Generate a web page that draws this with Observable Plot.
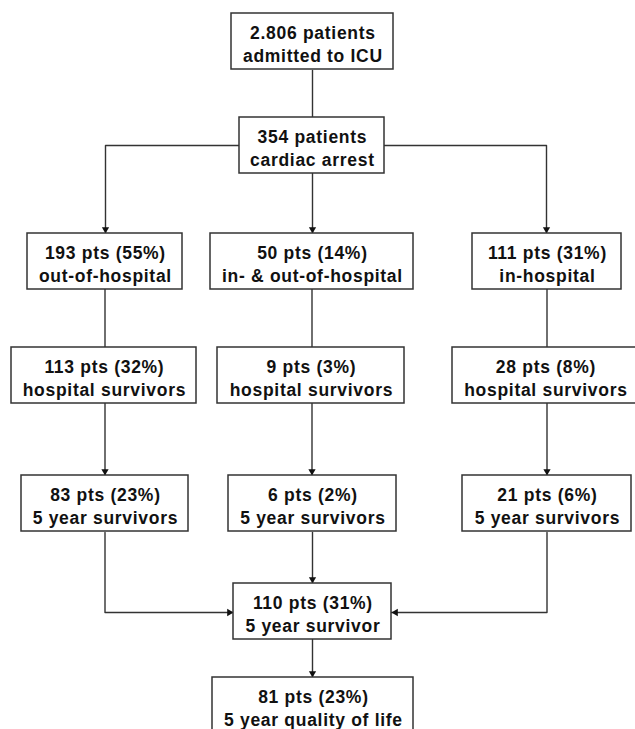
<!DOCTYPE html>
<html>
<head>
<meta charset="utf-8">
<script src="https://cdn.jsdelivr.net/npm/d3@7"></script>
<script src="https://cdn.jsdelivr.net/npm/@observablehq/plot@0.6"></script>
<style>
  html, body { margin: 0; padding: 0; background: #fff; overflow: hidden; }
  svg text { letter-spacing: 0.7px; }
</style>
</head>
<body>
<div id="chart"></div>
<script>
// ---- data: box labels (two lines each) ----
const counts = ["2.806 patients", "354 patients",
  "193 pts (55%)", "50 pts (14%)", "111 pts (31%)",
  "113 pts (32%)", "9 pts (3%)", "28 pts (8%)",
  "83 pts (23%)", "6 pts (2%)", "21 pts (6%)",
  "110 pts (31%)", "81 pts (23%)"];
const descriptions = ["admitted to ICU", "cardiac arrest",
  "out-of-hospital", "in- & out-of-hospital", "in-hospital",
  "hospital survivors", "hospital survivors", "hospital survivors",
  "5 year survivors", "5 year survivors", "5 year survivors",
  "5 year survivor", "5 year quality of life"];

// ---- layout (diagram geometry) ----
const cx = [312, 311.5, 104.5, 311.5, 546.5, 103.5, 310.5, 545, 104.5, 312, 546.5, 312, 312.5];
const boxW = [162, 145, 155, 203, 149, 185, 187, 186, 167, 168, 169, 158, 201];
const rowTop = [13, 117, 233, 233, 233, 347, 347, 347, 475, 475, 475, 583, 677];
const boxH = 56;

const boxes = counts.map((c, i) => ({
  x1: cx[i] - boxW[i] / 2, x2: cx[i] + boxW[i] / 2,
  y1: rowTop[i], y2: rowTop[i] + boxH,
  xc: cx[i], yc: rowTop[i] + boxH / 2,
  label: c + "\n" + descriptions[i]
}));

// connectors: polylines, with arrow flag
const connectors = [
  {pts: [[312, 70], [312, 117]], arrow: false},
  {pts: [[239, 145], [105, 145], [105, 233]], arrow: true},
  {pts: [[312, 173], [312, 233]], arrow: true},
  {pts: [[384, 145], [546, 145], [546, 233]], arrow: true},
  {pts: [[104.5, 289], [104.5, 347]], arrow: false},
  {pts: [[311.5, 289], [311.5, 347]], arrow: false},
  {pts: [[546.5, 289], [546.5, 347]], arrow: false},
  {pts: [[104.5, 403], [104.5, 475]], arrow: true},
  {pts: [[311.5, 403], [311.5, 475]], arrow: true},
  {pts: [[546.5, 403], [546.5, 475]], arrow: true},
  {pts: [[104.5, 532], [104.5, 612], [233, 612]], arrow: true},
  {pts: [[312, 532], [312, 583]], arrow: true},
  {pts: [[546.5, 532], [546.5, 612], [391, 612]], arrow: true},
  {pts: [[312, 639], [312, 677]], arrow: true}
];

const lineData = connectors.flatMap((c, i) => c.pts.map(([x, y]) => ({x, y, id: i})));

const tipOffset = 4.2;
const arrowHeads = connectors.filter(c => c.arrow).map(c => {
  const [x0, y0] = c.pts[c.pts.length - 2];
  const [x1, y1] = c.pts[c.pts.length - 1];
  const dx = Math.sign(x1 - x0), dy = Math.sign(y1 - y0);
  let rot = 180;
  if (dx > 0) rot = 90; else if (dx < 0) rot = -90; else if (dy < 0) rot = 0;
  return {x: x1 - dx * tipOffset, y: y1 - dy * tipOffset, rot};
});

const ink = "#333";

const chart = Plot.plot({
  width: 635,
  height: 729,
  margin: 0,
  x: {domain: [0, 635], axis: null},
  y: {domain: [0, 729], reverse: true, axis: null},
  marks: [
    Plot.line(lineData, {x: "x", y: "y", z: "id", stroke: ink, strokeWidth: 1.4, curve: "linear"}),
    Plot.dot(arrowHeads, {x: "x", y: "y", symbol: "triangle", r: 2.7, fill: "#111", stroke: "none", rotate: "rot"}),
    Plot.rect(boxes, {x1: "x1", x2: "x2", y1: "y1", y2: "y2", fill: "white", stroke: ink, strokeWidth: 1.5}),
    Plot.text(boxes, {x: "xc", y: "yc", dx: 0.4, dy: 2, text: "label", fontSize: 17.5, fontWeight: "bold",
      fontFamily: "Liberation Sans, Arial, sans-serif", fill: "#111", lineHeight: 1.3, lineAnchor: "middle"})
  ]
});
document.getElementById("chart").appendChild(chart);
</script>
</body>
</html>
